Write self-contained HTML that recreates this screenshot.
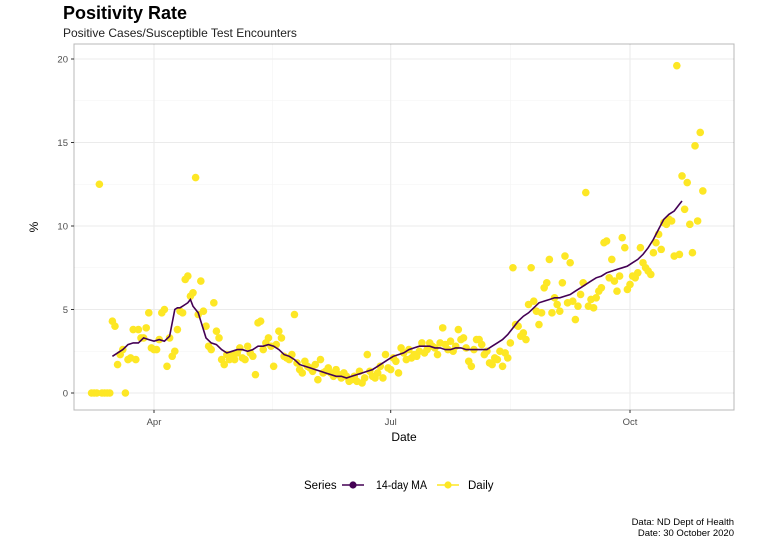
<!DOCTYPE html>
<html><head><meta charset="utf-8"><style>
body{margin:0;background:#fff;font-family:"Liberation Sans",sans-serif}
svg{display:block}
</style></head><body>
<svg id="c" width="762" height="538">
<text x="63" y="19" font-size="18" font-weight="bold" fill="#000">Positivity Rate</text>
<text x="63" y="37" font-size="12" fill="#222">Positive Cases/Susceptible Test Encounters</text>
<rect x="74" y="44" width="660" height="366" fill="#fff"/>
<g id="grid"></g><g id="marks"></g>
<rect x="74" y="44" width="660" height="366" fill="none" stroke="#333" stroke-opacity="0.35" stroke-width="1"/>
<g id="axes"></g>
<text x="404" y="441" font-size="12" text-anchor="middle" fill="#000">Date</text>
<text transform="translate(38,227) rotate(-90)" font-size="12" text-anchor="middle" fill="#000">%</text>
<g>
<text x="304" y="489" font-size="11.5" fill="#000">Series</text>
<g><line x1="342" y1="485" x2="364" y2="485" stroke="#440154" stroke-width="1.6"/><circle cx="353" cy="485" r="3.6" fill="#440154"/><text x="376" y="489" font-size="11.5" fill="#000" textLength="51" lengthAdjust="spacingAndGlyphs">14-day MA</text></g>
<g><line x1="437" y1="485" x2="459" y2="485" stroke="#FDE725" stroke-width="1.6"/><circle cx="448" cy="485" r="3.6" fill="#FDE725"/><text x="468" y="489" font-size="11.5" fill="#000">Daily</text></g>
</g>
<text x="734" y="525" font-size="9.5" text-anchor="end" fill="#000">Data: ND Dept of Health</text>
<text x="734" y="536" font-size="9.5" text-anchor="end" fill="#000">Date: 30 October 2020</text>
</svg>
<script>
// day 0 = 8 March 2020
const dailyValues=[0,0,0,12.5,0,0,0,0,4.3,4.0,
1.7,2.3,2.6,0,2.0,2.1,3.8,2.0,3.8,3.3,
3.3,3.9,4.8,2.7,2.6,2.6,3.2,4.8,5.0,1.6,
3.3,2.2,2.5,3.8,4.9,4.8,6.8,7.0,5.8,6.0,
12.9,4.7,6.7,4.9,4.0,2.8,2.6,5.4,3.7,3.3,
2.0,1.7,2.3,2.0,2.3,2.0,2.4,2.7,2.1,2.0,
2.8,2.4,2.2,1.1,4.2,4.3,2.6,3.0,3.3,2.8,
1.6,2.9,3.7,3.3,2.2,2.1,2.0,2.3,4.7,1.8,
1.4,1.2,1.9,1.6,1.5,1.3,1.7,0.8,2.0,1.2,
1.3,1.5,1.2,1.0,1.4,1.1,0.9,1.2,1.0,0.7,
0.8,1.0,0.7,1.3,0.6,0.9,2.3,1.3,1.0,0.9,
1.2,1.6,0.9,2.3,1.5,1.4,2.1,1.9,1.2,2.7,
2.4,2.0,2.6,2.1,2.3,2.2,2.5,3.0,2.4,2.6,
3.0,2.8,2.7,2.3,3.0,3.9,2.9,2.6,3.1,2.5,
2.8,3.8,3.2,3.3,2.7,1.9,1.6,2.6,3.2,3.2,
2.9,2.3,2.5,1.8,1.7,2.1,2.0,2.5,1.6,2.4,
2.1,3.0,7.5,4.1,4.0,3.4,3.6,3.2,5.3,7.5,
5.5,4.9,4.1,4.8,6.3,6.6,8.0,4.8,5.7,5.3,
4.9,6.6,8.2,5.4,7.8,5.5,4.4,5.2,5.9,6.6,
12.0,5.2,5.6,5.1,5.7,6.1,6.3,9.0,9.1,6.9,
8.0,6.7,6.1,7.0,9.3,8.7,6.2,6.5,7.0,6.9,
7.2,8.7,7.8,7.5,7.3,7.1,8.4,9.0,9.5,8.6,
10.2,10.1,10.4,10.3,8.2,19.6,8.3,13.0,11.0,12.6,
10.1,8.4,14.8,10.3,15.6,12.1];
const maDays=[8,10,12,14,16,18,20,22,24,26,28,30,31,32,33,34,35,36,37,38,39,40,41,42,43,44,46,48,50,52,54,56,58,60,62,64,66,68,70,72,74,76,78,80,82,84,86,88,90,92,94,96,98,100,102,104,106,108,110,112,114,116,118,120,122,124,126,128,130,132,134,136,138,140,142,144,146,148,150,152,154,156,158,160,162,164,166,168,170,172,174,176,178,180,182,184,186,188,190,192,194,196,198,200,202,204,206,208,210,212,214,216,218,220,222,224,226,227];
const maValues=[2.2,2.4,2.6,2.9,3.0,3.0,3.3,3.2,3.1,3.2,3.1,3.4,4.2,5.0,5.1,5.1,5.2,5.3,5.4,5.6,5.2,5.0,4.8,4.3,3.8,3.3,3.0,2.9,2.6,2.4,2.5,2.6,2.6,2.5,2.6,2.8,2.8,2.9,2.8,2.6,2.3,2.2,2.0,1.7,1.6,1.5,1.4,1.3,1.2,1.1,1.0,1.0,0.9,1.0,1.1,1.2,1.3,1.4,1.6,1.8,2.0,2.2,2.3,2.4,2.6,2.7,2.8,2.8,2.8,2.7,2.7,2.6,2.6,2.7,2.7,2.6,2.6,2.6,2.6,2.6,2.8,3.0,3.2,3.5,3.9,4.3,4.6,4.8,5.1,5.4,5.5,5.6,5.7,5.7,5.8,5.9,6.1,6.3,6.5,6.7,6.9,7.0,7.2,7.3,7.4,7.5,7.6,7.8,8.0,8.3,8.7,9.2,9.8,10.4,10.7,10.9,11.3,11.5];
const yTicks=[0,5,10,15,20];
const yMinor=[2.5,7.5,12.5,17.5];
const xTickDays=[24,115,207];
const xTickLabels=["Apr","Jul","Oct"];
const xMinorDays=[69.5,161];

const NS="http://www.w3.org/2000/svg";
const X=d=>154+(d-24)*(476/183);
const Y=v=>393-v*16.7;
function mk(tag,attrs,parent){const e=document.createElementNS(NS,tag);for(const k in attrs)e.setAttribute(k,attrs[k]);parent.appendChild(e);return e;}
const grid=document.getElementById('grid'),marks=document.getElementById('marks'),axes=document.getElementById('axes');
yMinor.forEach(v=>{const l=mk('line',{x1:74,x2:734,y1:Y(v),y2:Y(v),stroke:'#f3f3f3','stroke-width':0.6},grid);

});
xMinorDays.forEach(d=>{const l=mk('line',{x1:X(d),x2:X(d),y1:44,y2:410,stroke:'#f3f3f3','stroke-width':0.6},grid);

});
yTicks.forEach(v=>{const l=mk('line',{x1:74,x2:734,y1:Y(v),y2:Y(v),stroke:'#ebebeb','stroke-width':1.1},grid);


mk('line',{x1:71,x2:74,y1:Y(v),y2:Y(v),stroke:'#333'},axes);
const t=mk('text',{x:68,y:Y(v)+3.5,'font-size':9.5,'text-anchor':'end',fill:'#4d4d4d'},axes);t.textContent=v;

});
xTickDays.forEach((d,i)=>{const l=mk('line',{x1:X(d),x2:X(d),y1:44,y2:410,stroke:'#ebebeb','stroke-width':1.1},grid);


mk('line',{x1:X(d),x2:X(d),y1:410,y2:413,stroke:'#333'},axes);
const t=mk('text',{x:X(d),y:425,'font-size':9.5,'text-anchor':'middle',fill:'#4d4d4d'},axes);t.textContent=xTickLabels[i];

});
dailyValues.forEach((v,d)=>{const c=mk('circle',{cx:X(d),cy:Y(v),r:3.8,fill:'#FDE725'},marks);

});
const p=mk('path',{d:maDays.map((d,i)=>(i?'L':'M')+X(d).toFixed(1)+','+Y(maValues[i]).toFixed(1)).join(''),fill:'none',stroke:'#440154','stroke-width':1.6},marks);


</script>
</body></html>
